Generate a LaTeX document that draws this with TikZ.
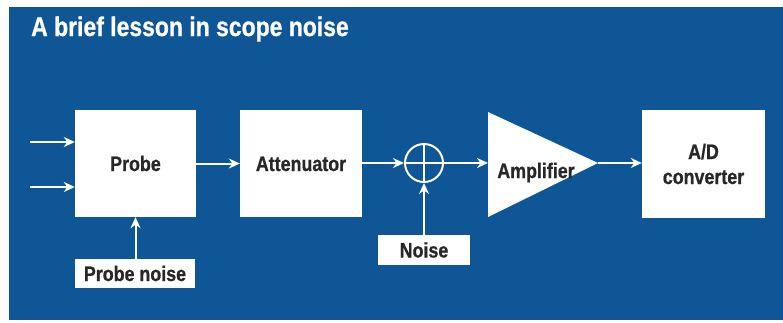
\documentclass[tikz,border=0pt]{standalone}
\usepackage{fontspec}
\setmainfont{Liberation Sans}[FakeStretch=0.85, BoldFeatures={FakeBold=0.8}]
\usetikzlibrary{arrows.meta}
\definecolor{bg}{RGB}{14,86,150}
\definecolor{txt}{RGB}{40,40,40}
\begin{document}
\begin{tikzpicture}[x=1pt,y=-1pt,
  blockbox/.style={fill=white, draw=none, inner sep=0pt, text=txt,
    font=\fontsize{21}{25}\selectfont\bfseries},
  sig/.style={draw=white, line width=2pt,
    -{Stealth[length=11pt,width=10pt,inset=3.5pt]}},
]
\useasboundingbox (0,0) rectangle (783,322);
\fill[white] (0,0) rectangle (783,322);
\fill[bg] (9,7) rectangle (783,320);
\node[anchor=base west, text=white, inner sep=0pt,
  font=\fontsize{27}{30}\selectfont\bfseries] (title) at (31,36) {A brief lesson in scope noise};

\node[blockbox, minimum width=121pt, minimum height=107pt, text height=15pt, text depth=0pt] (probe) at (135.5,163.5) {Probe};
\node[blockbox, minimum width=122pt, minimum height=107pt, text height=15pt, text depth=0pt] (att) at (301,163.5) {Attenuator};
\node[blockbox, minimum width=123pt, minimum height=108pt, align=center] (adc) at (703.5,164) {A/D\\converter};
\node[blockbox, minimum width=120pt, minimum height=29pt, text height=15pt, text depth=0pt] (pnoise) at (135,273.5) {Probe noise};
\node[blockbox, minimum width=92pt, minimum height=30pt, text height=15pt, text depth=0pt] (noise) at (424,250) {Noise};

% summing junction
\node[circle, draw=white, line width=2pt, minimum size=38pt, inner sep=0pt] (sum) at (424,163) {};
\draw[white, line width=2pt] (sum.north) -- (sum.south) (sum.west) -- (sum.east);

% amplifier
\coordinate (ampin) at (488,163);
\coordinate (ampout) at (598,163);
\fill[white] (488,112) -- (598,163) -- (488,217) -- cycle;
\node[anchor=base, inner sep=0pt, text=txt, font=\fontsize{21}{25}\selectfont\bfseries] (amptext) at (536,178) {Amplifier};

% inputs
\coordinate (in1) at (30,142);
\coordinate (in2) at (30,187);
\draw[sig] (in1) -- (in1 -| probe.west);
\draw[sig] (in2) -- (in2 -| probe.west);

\draw[sig] (probe.east) -- (att.west);
\draw[sig] (att.east |- sum.west) -- (sum.west);
\draw[sig] (sum.east) -- (ampin);
\draw[sig] (ampout) -- (ampout -| adc.west);
\draw[sig] (pnoise.north -| probe.south) -- (probe.south);
\draw[sig] (noise.north) -- (sum.south);
\end{tikzpicture}
\end{document}
